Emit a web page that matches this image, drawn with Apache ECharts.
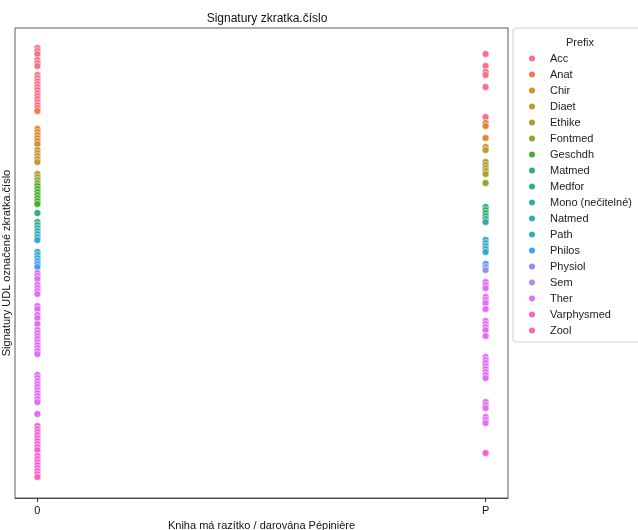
<!DOCTYPE html>
<html>
<head>
<meta charset="utf-8">
<script src="https://cdn.jsdelivr.net/npm/echarts@6/dist/echarts.min.js"></script>
<style>html,body{margin:0;padding:0;background:#fff}#c{width:638px;height:530px}</style>
</head>
<body>
<div id="c"></div>
<script>
// x categories
const xCategories = ['0', 'P'];
// hue levels
const prefixes = ['Acc','Anat','Chir','Diaet','Ethike','Fontmed','Geschdh','Matmed','Medfor','Mono (nečitelné)','Natmed','Path','Philos','Physiol','Sem','Ther','Varphysmed','Zool'];
const colors = ['#f77189','#f5794f','#dc8932','#c39933','#ae9d31','#8da631','#45b031','#33b06f','#35ae8b','#36ada4','#38aab9','#39a7cd','#45a0f2','#8893f4','#b68af4','#df6ff4','#f463d3','#f668b3'];
// category rank (position on y axis, 0 = top) of each signature, column "0"
const ranks0 = [
  [0,1,2,4,5,6,9,10,11,12,13,14,15,16,17,18,19,20],
  [21],
  [27,28,29,30,31,32],
  [34,35,36,37,38],
  [42,43],
  [44,45],
  [46,47,48,49,50,51,52],
  [55],
  [58,59],
  [60],
  [61,62,63],
  [64,68,69,70],
  [71,72,73],
  [],
  [],
  [75,76,77,79,80,81,82,86,87,89,90,92,94,95,96,97,98,99,100,101,102,109,110,111,112,113,114,115,116,117,118,122],
  [126,127,128,129,130,131,132,133,134,136,137,138,139,140,141,142],
  [143]
];
// column "P"
const ranksP = [
  [2,6,8,9,13,23],
  [25],
  [26,30],
  [33,34],
  [38,39,40,41,42],
  [45],
  [],
  [53,54,55],
  [56,57],
  [58],
  [64,65],
  [66,67,68],
  [72],
  [73,74],
  [],
  [78,79,80,83,84,85,87,91,92,93,94,96,103,104,105,106,107,108,109,110,118,119,120,123,124,125],
  [135],
  []
];

const series = prefixes.map((p, i) => ({
  name: p,
  type: 'scatter',
  symbolSize: 7,
  itemStyle: { color: colors[i], borderColor: '#fff', borderWidth: 0.6, opacity: 1 },
  data: ranks0[i].map(r => [0, r]).concat(ranksP[i].map(r => [1, r]))
}));

const chart = echarts.init(document.getElementById('c'), null, { renderer: 'canvas' });
chart.setOption({
  animation: false,
  backgroundColor: '#fff',
  textStyle: { fontFamily: 'Liberation Sans, Arial, sans-serif' },
  title: [
    { text: 'Signatury zkratka.číslo', left: 262, top: 8, textAlign: 'center',
      textStyle: { fontSize: 12, fontWeight: 'normal', color: '#111', fontFamily: 'Liberation Sans, Arial, sans-serif' } },
    { text: 'Prefix', left: 575, top: 32, textAlign: 'center',
      textStyle: { fontSize: 11, fontWeight: 'normal', color: '#222', fontFamily: 'Liberation Sans, Arial, sans-serif' } }
  ],
  grid: { left: 15, right: 130, top: 28, bottom: 32, outerBoundsMode: 'none', containLabel: false,
          show: true, borderColor: '#333', borderWidth: 0.8, backgroundColor: 'transparent' },
  legend: {
    data: prefixes,
    orient: 'vertical',
    left: 513, top: 28,
    padding: [24, 40, 5, 14],
    itemWidth: 26, itemHeight: 8, itemGap: 3,
    icon: 'circle',
    backgroundColor: '#fff', borderColor: '#d0d0d0', borderWidth: 1, borderRadius: 3,
    textStyle: { fontSize: 11, lineHeight: 13, color: '#222', fontFamily: 'Liberation Sans, Arial, sans-serif' },
    selectedMode: false
  },
  xAxis: {
    type: 'value', min: -0.05, max: 1.05,
    name: 'Kniha má razítko / darována Pépinière',
    nameLocation: 'middle', nameGap: 22,
    nameTextStyle: { fontSize: 11, color: '#111' },
    axisLine: { show: true, onZero: false, lineStyle: { color: '#333', width: 0.8 } },
    splitLine: { show: false },
    axisTick: { show: true, length: 4, customValues: [0, 1], lineStyle: { color: '#333' } },
    axisLabel: { customValues: [0, 1], formatter: v => xCategories[Math.round(v)], fontSize: 11, color: '#111', margin: 7 }
  },
  yAxis: {
    type: 'value', inverse: true, min: -6.67, max: 150,
    name: 'Signatury UDL označené zkratka.číslo',
    nameLocation: 'middle', nameGap: 3,
    nameTextStyle: { fontSize: 11, color: '#111' },
    axisLine: { show: false, onZero: false }, axisTick: { show: false }, axisLabel: { show: false }, splitLine: { show: false }
  },
  series: series
});
</script>
</body>
</html>
